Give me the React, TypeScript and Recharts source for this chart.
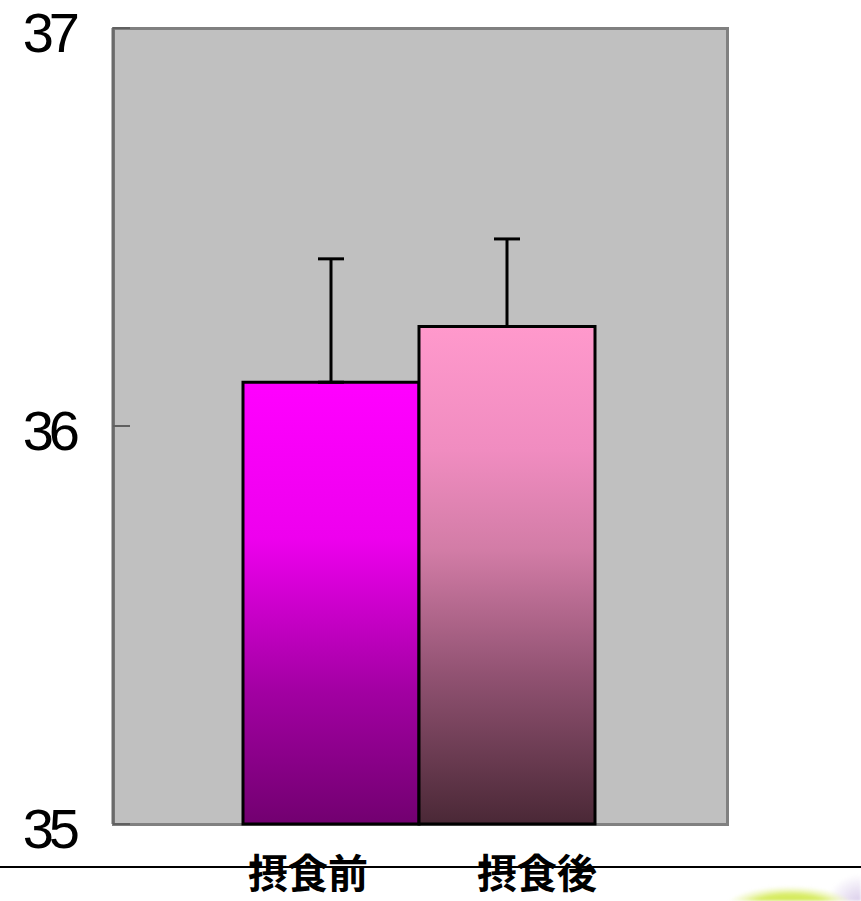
import { BarChart, Bar, XAxis, YAxis, ErrorBar, Cell } from 'recharts';

const phases = ['摂食前', '摂食後'];
const means = [36.11, 36.25];
const errors = [0.31, 0.22];
const yTicks = [35, 36, 37];

// only the upper whisker is shown
const data = phases.map((phase, i) => ({ phase, mean: means[i], err: [0, errors[i]] }));

const gradients = [
    [
        ['0%', '#ff00ff'],
        ['35%', '#ee00ee'],
        ['70%', '#a200a2'],
        ['100%', '#720070'],
    ],
    [
        ['0%', '#ff99cc'],
        ['25%', '#f08cc0'],
        ['45%', '#d27ca6'],
        ['70%', '#915272'],
        ['100%', '#4a2836'],
    ],
];

const labelShift = [-23, 30];

const YTick = (props: any) => {
    const { x, y, payload } = props;
    const axisX = x + 8;
    return (
        <g>
            <line x1={axisX} x2={axisX + 17} y1={y} y2={y} stroke="#606060" strokeWidth={2} />
            <text
                x={axisX - 38}
                y={y + 24}
                textAnchor="end"
                fontFamily="'Liberation Sans', Arial, sans-serif"
                fontSize={56}
                letterSpacing={-5}
                fill="#000"
            >
                {payload.value}
            </text>
        </g>
    );
};

const XTick = (props: any) => {
    const { x, y, payload, index } = props;
    return (
        <text
            x={x + labelShift[index]}
            y={y + 56}
            textAnchor="middle"
            fontFamily="'Noto Sans CJK JP', sans-serif"
            fontWeight={700}
            fontSize={40}
            fill="#000"
        >
            {payload.value}
        </text>
    );
};

const App = () => {
    return (
        <div style={{ position: 'absolute', left: 0, top: 0, width: 861, height: 901, background: '#fff', overflow: 'hidden' }}>
            {/* plot frame */}
            <div
                style={{
                    position: 'absolute',
                    left: 112,
                    top: 27,
                    width: 617,
                    height: 799,
                    boxSizing: 'border-box',
                    border: '3px solid #808080',
                    background: '#c0c0c0',
                }}
            />
            <div style={{ position: 'absolute', left: 0, top: 866, width: 861, height: 2, background: '#000' }} />
            <div
                style={{
                    position: 'absolute',
                    left: 680,
                    top: 868,
                    width: 181,
                    height: 33,
                    background:
                        'radial-gradient(ellipse 66px 22px at 110px 40px, #cde64a 0%, #d8ec66 60%, rgba(236,245,180,0.7) 82%, rgba(255,255,255,0) 100%), radial-gradient(ellipse 34px 30px at 181px 36px, #d6c8e8 0%, rgba(255,255,255,0) 100%)',
                    filter: 'blur(1.5px)',
                }}
            />
            <BarChart
                width={861}
                height={901}
                data={data}
                margin={{ top: 28, right: 133, bottom: 0, left: 0 }}
                barCategoryGap={0}
                barGap={0}
                style={{ position: 'absolute', left: 0, top: 0 }}
            >
                <defs>
                    {gradients.map((stops, i) => (
                        <linearGradient key={i} id={`barFill${i}`} x1="0" y1="0" x2="0" y2="1">
                            {stops.map(([offset, color]) => (
                                <stop key={offset} offset={offset} stopColor={color} />
                            ))}
                        </linearGradient>
                    ))}
                </defs>
                <XAxis
                    dataKey="phase"
                    padding={{ left: 130, right: 133 }}
                    height={77}
                    axisLine={false}
                    tickLine={false}
                    tick={<XTick />}
                    interval={0}
                />
                <YAxis
                    domain={[35, 37]}
                    ticks={yTicks}
                    width={113}
                    axisLine={{ stroke: '#6a6a6a', strokeWidth: 3 }}
                    tickLine={false}
                    tick={<YTick />}
                    interval={0}
                />
                <Bar dataKey="mean" stroke="#000" strokeWidth={3} isAnimationActive={false}>
                    {data.map((d, i) => (
                        <Cell key={d.phase} fill={`url(#barFill${i})`} />
                    ))}
                    <ErrorBar dataKey="err" width={13} stroke="#000" strokeWidth={3} direction="y" />
                </Bar>
            </BarChart>
        </div>
    );
};

export default App;
